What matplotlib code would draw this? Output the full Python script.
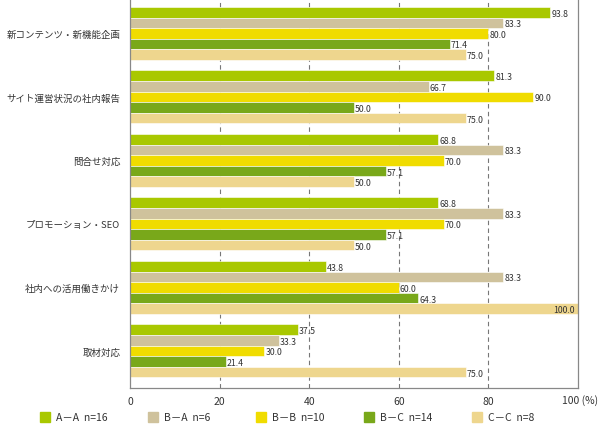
import matplotlib
matplotlib.use("Agg")
import matplotlib.pyplot as plt
from matplotlib.patches import Rectangle

plt.rcParams['font.family'] = ['Noto Sans CJK JP', 'DejaVu Sans']

# データ
categories = ['新コンテンツ・新機能企画', 'サイト運営状況の社内報告', '問合せ対応',
              'プロモーション・SEO', '社内への活用働きかけ', '取材対応']
series = ['A－A  n=16', 'B－A  n=6', 'B－B  n=10', 'B－C  n=14', 'C－C  n=8']
values = [
    [93.8, 81.3, 68.8, 68.8, 43.8, 37.5],   # A-A
    [83.3, 66.7, 83.3, 83.3, 83.3, 33.3],   # B-A
    [80.0, 90.0, 70.0, 70.0, 60.0, 30.0],   # B-B
    [71.4, 50.0, 57.1, 57.1, 64.3, 21.4],   # B-C
    [75.0, 75.0, 50.0, 50.0, 100.0, 75.0],  # C-C
]
colors = ['#a9c800', '#cfc29c', '#f0dc00', '#79a81a', '#eed68e']
xticks = [0, 20, 40, 60, 80]

fig = plt.figure(figsize=(6, 4.27), dpi=100)
ax = fig.add_axes([130 / 600, 1 - 389 / 427, 448 / 600, 389 / 427])

n = len(series)
step = n + 1
for j, (name, vals, c) in enumerate(zip(series, values, colors)):
    ys = [i * step + j + 0.5 for i in range(len(categories))]
    ax.barh(ys, vals, height=1.0, color=c, edgecolor='white', linewidth=0.4, zorder=2)
    for y, v in zip(ys, vals):
        if v >= 99:
            ax.annotate(f'{v:.1f}', (v, y), xytext=(-3, -1), textcoords='offset pixels',
                        ha='right', va='center', fontsize=6.3, color='#333333', zorder=3)
        else:
            ax.annotate(f'{v:.1f}', (v, y), xytext=(1, -1), textcoords='offset pixels',
                        ha='left', va='center', fontsize=6.3, color='#333333', zorder=3)

ax.set_xlim(0, 100)
ax.set_ylim(len(categories) * step, -0.75)
ax.set_yticks([i * step + 2.5 for i in range(len(categories))])
ax.set_yticklabels(categories, fontsize=6.8, color='#333333')
ax.set_xticks(xticks)
ax.set_xticklabels([str(t) for t in xticks], fontsize=7.5, color='#333333')
ax.tick_params(length=0, pad=6)
ax.tick_params(axis='y', pad=7)
ax.annotate('100 (%)', xy=(100, 0), xycoords=('data', 'axes fraction'),
            xytext=(-16, -6), textcoords='offset pixels', ha='left', va='top',
            fontsize=7.5, color='#333333')

for x in xticks[1:]:
    ax.axvline(x, color='#777777', linewidth=0.8, linestyle=(0, (4, 3)), zorder=1)

ax.spines['top'].set_visible(False)
for s in ['left', 'right', 'bottom']:
    ax.spines[s].set_color('#888888')
    ax.spines[s].set_linewidth(0.9)

# 凡例
for k, (name, c) in enumerate(zip(series, colors)):
    x0 = 40 + k * 108
    fig.patches.append(Rectangle((x0 / 600, 1 - 423 / 427), 10 / 600, 10 / 427,
                                 transform=fig.transFigure, color=c))
    fig.text((x0 + 16) / 600, 1 - 418 / 427, name, fontsize=7.5, color='#333333',
             ha='left', va='center')

fig.savefig('out.png', dpi=100)
